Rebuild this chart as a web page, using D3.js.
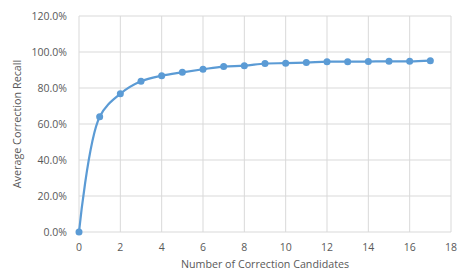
<!DOCTYPE html>
<html>
<head>
<meta charset="utf-8">
<script src="https://cdn.jsdelivr.net/npm/d3@7"></script>
<style>
  body { margin: 0; background: #fff; }
  text { font-family: "Open Sans", "Liberation Sans", sans-serif; fill: #595959; }
</style>
</head>
<body>
<svg id="chart" width="458" height="274"></svg>
<script>
// Data
const candidates = [0, 1, 2, 3, 4, 5, 6, 7, 8, 9, 10, 11, 12, 13, 14, 15, 16, 17];
const recall = [0, 64.0, 76.8, 83.7, 86.8, 88.7, 90.4, 91.9, 92.4, 93.6, 93.8, 94.1, 94.6, 94.6, 94.7, 94.8, 94.8, 95.2];
const xTicks = [0, 2, 4, 6, 8, 10, 12, 14, 16, 18];
const yTicks = [0, 20, 40, 60, 80, 100, 120];

const svg = d3.select('#chart');
const plotL = 79, plotR = 451, plotT = 16, plotB = 232;

const x = d3.scaleLinear().domain([0, 18]).range([plotL, plotR]);
const y = d3.scaleLinear().domain([0, 120]).range([plotB, plotT]);

// Gridlines
svg.append('g').selectAll('line')
  .data(yTicks)
  .join('line')
  .attr('x1', plotL).attr('x2', plotR)
  .attr('y1', d => y(d)).attr('y2', d => y(d))
  .attr('stroke', '#d9d9d9').attr('stroke-width', 1);

svg.append('g').selectAll('line')
  .data(xTicks)
  .join('line')
  .attr('x1', d => x(d)).attr('x2', d => x(d))
  .attr('y1', plotT).attr('y2', plotB)
  .attr('stroke', '#d9d9d9').attr('stroke-width', 1);

// Tick labels
svg.append('g').selectAll('text')
  .data(yTicks)
  .join('text')
  .attr('x', plotL - 12).attr('y', d => y(d))
  .attr('dy', '0.35em')
  .attr('text-anchor', 'end')
  .attr('font-size', 10.5)
  .text(d => d.toFixed(1) + '%');

svg.append('g').selectAll('text')
  .data(xTicks)
  .join('text')
  .attr('x', d => x(d)).attr('y', 247)
  .attr('dy', '0.35em')
  .attr('text-anchor', 'middle')
  .attr('font-size', 10.5)
  .text(d => d);

// Axis titles
svg.append('text')
  .attr('x', 265).attr('y', 268)
  .attr('text-anchor', 'middle')
  .attr('font-size', 10.7)
  .text('Number of Correction Candidates');

svg.append('text')
  .attr('transform', `translate(21,124) rotate(-90)`)
  .attr('text-anchor', 'middle')
  .attr('font-size', 10.8)
  .text('Average Correction Recall');

// Line + markers
const pts = candidates.map((c, i) => [c, recall[i]]);

svg.append('path')
  .datum(pts)
  .attr('fill', 'none')
  .attr('stroke', '#5b9bd5')
  .attr('stroke-width', 2.2)
  .attr('d', d3.line().x(d => x(d[0])).y(d => y(d[1])).curve(d3.curveCatmullRom.alpha(0.5)));

svg.append('g').selectAll('circle')
  .data(pts)
  .join('circle')
  .attr('cx', d => x(d[0])).attr('cy', d => y(d[1]))
  .attr('r', 3.5)
  .attr('fill', '#5b9bd5');
</script>
</body>
</html>
